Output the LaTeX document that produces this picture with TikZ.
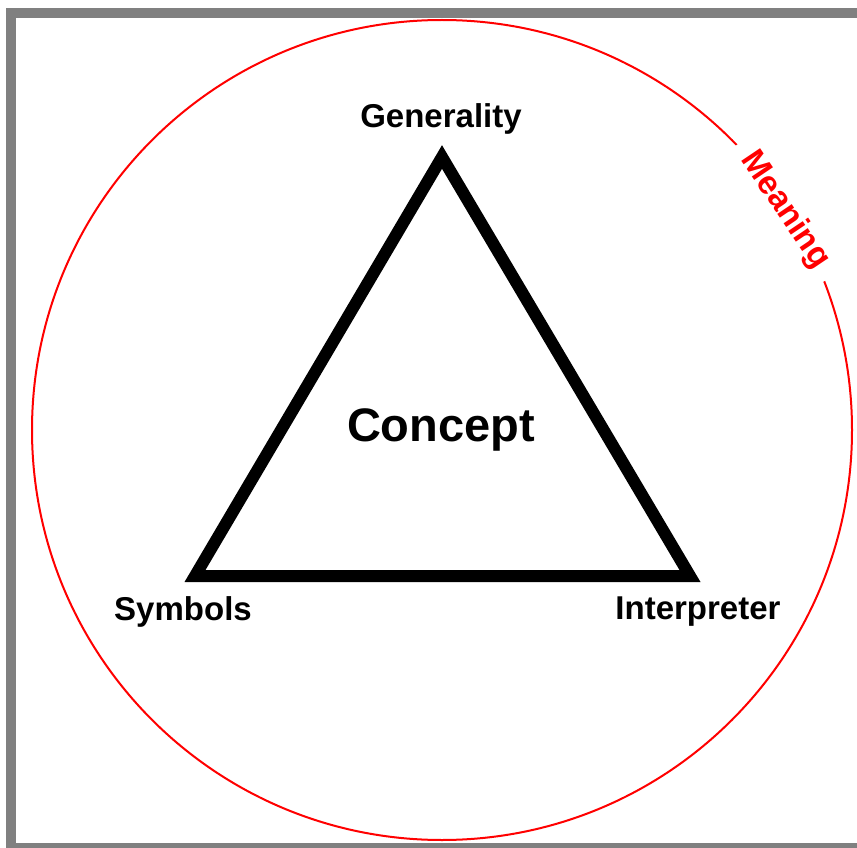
\documentclass[tikz,border=0pt]{standalone}
\usepackage{fontspec}
\setmainfont{Liberation Sans}
\begin{document}
\begin{tikzpicture}[x=1pt,y=-1pt]
		\tikzstyle{corner}=[font=\fontsize{33}{39}\selectfont\bfseries, inner sep=0pt];
		\tikzstyle{meaningtext}=[text=red, fill=white, font=\fontsize{33}{39}\selectfont\bfseries, inner xsep=14pt, inner ysep=2pt];

		\useasboundingbox (0,0) rectangle (857,848);
		\fill[gray] (6,8) rectangle (857,848);
		\fill[white] (16,18) rectangle (857,843);

		\draw[red, line width=2] (442,430) circle (410);

		\coordinate (top) at (442,157);
		\coordinate (left) at (195,576);
		\coordinate (right) at (690,576);

		\draw[line width=12, line join=miter] (top) -- (left) -- (right) -- cycle;

		\node[corner] (gen) at (441,119) {Generality};
		\node[corner] (sym) at (183,612) {Symbols};
		\node[corner] (int) at (698,612) {Interpreter};
		\node[font=\fontsize{47}{55}\selectfont\bfseries] (con) at (441,430) {Concept};
		\node[meaningtext, rotate=-56] (mea) at (785,210) {Meaning};
        \end{tikzpicture}
\end{document}
